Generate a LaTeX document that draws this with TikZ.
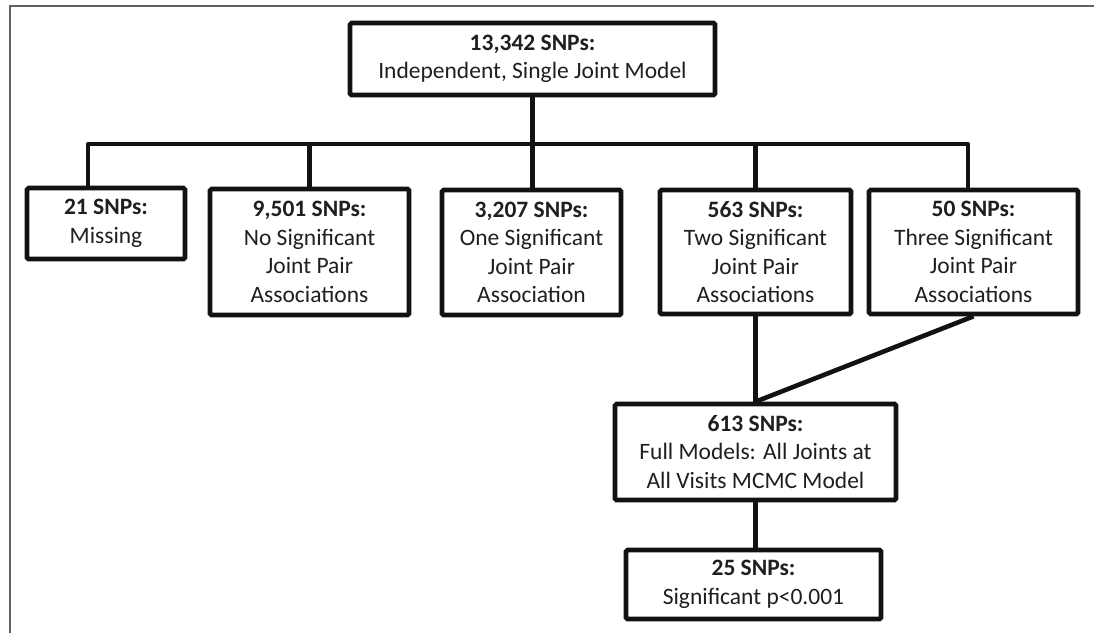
\documentclass[tikz,border=0pt]{standalone}
\usepackage{fontspec}
\setmainfont{Carlito}
\begin{document}
\begin{tikzpicture}[x=1pt,y=-1pt,
  bx/.style={draw=black!93, line width=4.6pt, rounded corners=1.5pt, align=center,
    inner sep=0pt, text=black!88, font=\fontsize{23.5}{28.5}\selectfont},
  conn/.style={draw=black!93, line width=4.6pt, line join=round}]
\useasboundingbox (0,0) rectangle (1094,633);
\fill[white] (0,0) rectangle (1094,633);
\draw[black!62, line width=2pt] (10,633) -- (10,6) -- (1094,6);

\node[bx, minimum width=365pt, minimum height=72pt] (top) at (532.5,59)
  {\textbf{13,342 SNPs:}\\Independent, Single Joint Model};
\node[bx, minimum width=158pt, minimum height=71pt] (b21) at (106,223.5)
  {\textbf{21 SNPs:}\\Missing};
\node[bx, minimum width=199pt, minimum height=126pt] (b9501) at (309.5,252)
  {\textbf{9,501 SNPs:}\\No Significant\\Joint Pair\\Associations};
\node[bx, minimum width=179pt, minimum height=125pt] (b3207) at (531.5,252.5)
  {\textbf{3,207 SNPs:}\\One Significant\\Joint Pair\\Association};
\node[bx, minimum width=191pt, minimum height=124pt] (b563) at (755.5,252)
  {\textbf{563 SNPs:}\\Two Significant\\Joint Pair\\Associations};
\node[bx, minimum width=209pt, minimum height=124pt] (b50) at (973.5,252)
  {\textbf{50 SNPs:}\\Three Significant\\Joint Pair\\Associations};
\node[bx, minimum width=281pt, minimum height=96pt] (b613) at (755.5,452)
  {\textbf{613 SNPs:}\\Full Models: All Joints at\\All Visits MCMC Model};
\node[bx, minimum width=255pt, minimum height=69pt] (b25) at (753.5,584.5)
  {\textbf{25 SNPs:}\\Significant p<0.001};

\coordinate (barL) at (88,144);
\coordinate (barR) at (968,144);

\draw[conn] (b21.north -| barL) -- (barL) -- (barR) -- (b50.north -| barR);
\draw[conn] (top.south) -- (top.south |- b3207.north);
\draw[conn] (b9501.north) -- (b9501.north |- barL);
\draw[conn] (b563.north) -- (b563.north |- barL);
\draw[conn] (b563.south) -- (b613.north);
\draw[conn] (b50.south) -- (b613.north);
\draw[conn] (b613.south) -- (b613.south |- b25.north);
\end{tikzpicture}
\end{document}
